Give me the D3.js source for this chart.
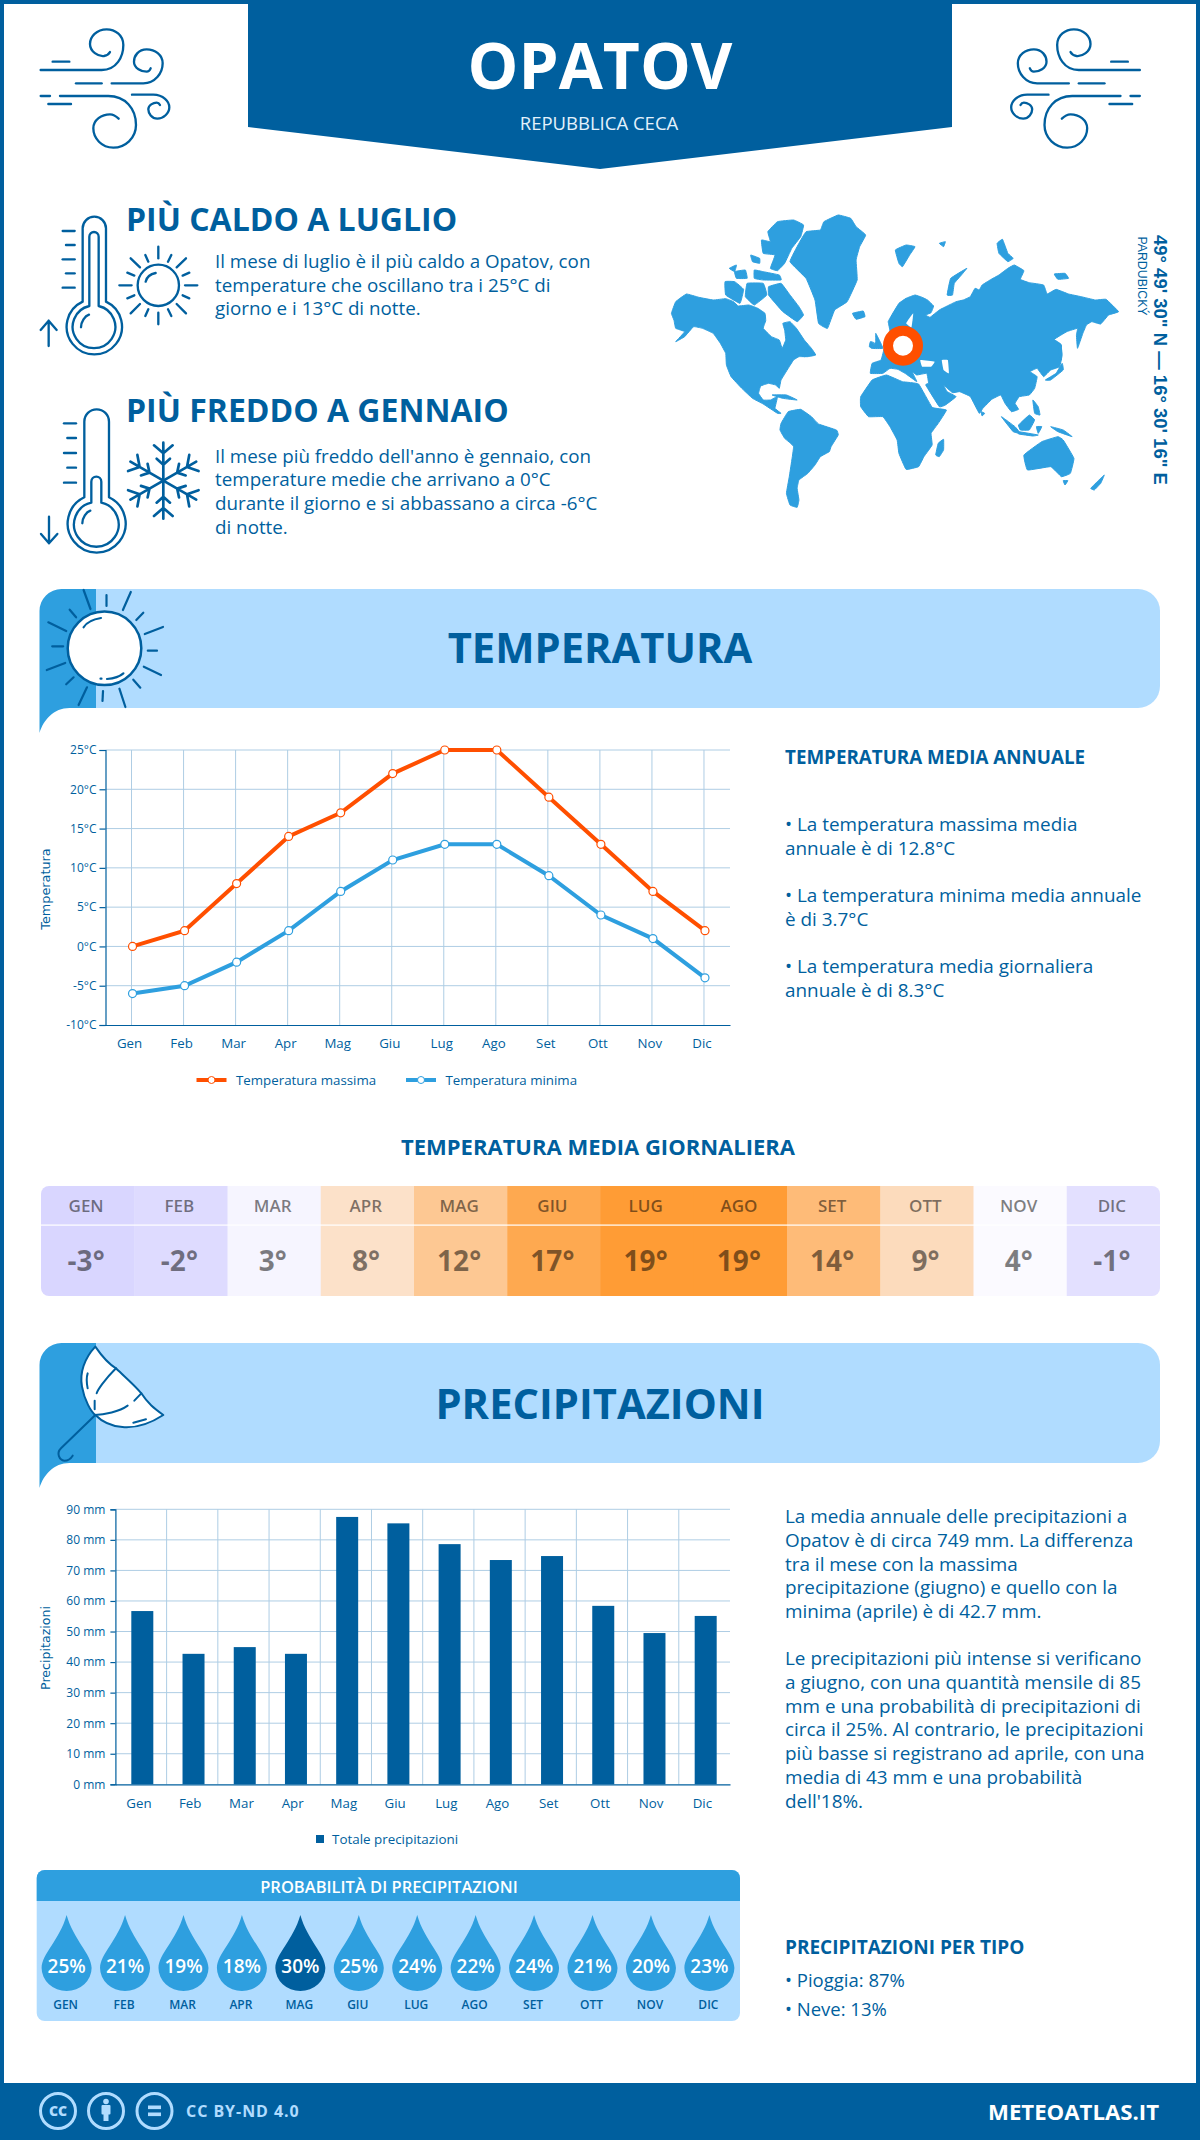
<!DOCTYPE html>
<html>
<head>
<meta charset="utf-8">
<title>Opatov</title>
<script src="https://cdn.jsdelivr.net/npm/d3@7"></script>
<style>
  html, body { margin: 0; padding: 0; background: #fff; }
  svg { display: block; font-family: "Open Sans", sans-serif; }
</style>
</head>
<body>
<div id="page"></div>
<script>
const months = ['Gen', 'Feb', 'Mar', 'Apr', 'Mag', 'Giu', 'Lug', 'Ago', 'Set', 'Ott', 'Nov', 'Dic'];
const tempMax = [0, 2, 8, 14, 17, 22, 25, 25, 19, 13, 7, 2];
const tempMin = [-6, -5, -2, 2, 7, 11, 13, 13, 9, 4, 1, -4];
const tempTicks = [-10, -5, 0, 5, 10, 15, 20, 25];
const dailyMean = [-3, -2, 3, 8, 12, 17, 19, 19, 14, 9, 4, -1];
const precipTotals = [56.7, 42.7, 44.9, 42.7, 87.5, 85.4, 78.6, 73.4, 74.7, 58.4, 49.5, 55.1];
const precipTicks = [0, 10, 20, 30, 40, 50, 60, 70, 80, 90];
const precipChance = [25, 21, 19, 18, 30, 25, 24, 22, 24, 21, 20, 23];

const hotLines = ['Il mese di luglio è il più caldo a Opatov, con', 'temperature che oscillano tra i 25°C di', 'giorno e i 13°C di notte.'];
const coldLines = ['Il mese più freddo dell\'anno è gennaio, con', 'temperature medie che arrivano a 0°C', 'durante il giorno e si abbassano a circa -6°C', 'di notte.'];
const annualLines = [['• La temperatura massima media', 'annuale è di 12.8°C'], ['• La temperatura minima media annuale', 'è di 3.7°C'], ['• La temperatura media giornaliera', 'annuale è di 8.3°C']];
const rainLines = [['La media annuale delle precipitazioni a', 'Opatov è di circa 749 mm. La differenza', 'tra il mese con la massima', 'precipitazione (giugno) e quello con la', 'minima (aprile) è di 42.7 mm.'],
  ['Le precipitazioni più intense si verificano', 'a giugno, con una quantità mensile di 85', 'mm e una probabilità di precipitazioni di', 'circa il 25%. Al contrario, le precipitazioni', 'più basse si registrano ad aprile, con una', 'media di 43 mm e una probabilità', 'dell\'18%.']];

// colours
const navy = '#005f9e';
const mid = '#2e9fdf';
const pale = '#b0dcff';
const orange = '#ff4f00';
const gridColor = '#aecde4';

// world map outlines (decoration, not data)
const mapOutlines = [
  [[88,340],[100,305],[130,282],[165,292],[205,300],[240,296],[262,305],[275,318],[305,315],[330,325],[350,340],[352,362],[345,385],[368,410],[390,420],[398,445],[408,420],[405,390],[400,370],[420,365],[438,385],[460,420],[480,445],[492,465],[470,470],[445,470],[430,480],[415,505],[395,540],[390,565],[380,555],[360,550],[338,558],[332,580],[345,600],[365,600],[385,590],[378,625],[395,640],[385,640],[345,612],[315,595],[285,565],[255,530],[242,495],[240,460],[225,430],[205,400],[175,385],[150,380],[125,410],[100,425],[125,395],[100,385],[95,360]],
  [[395,670],[415,635],[450,628],[480,650],[500,672],[550,690],[555,705],[535,740],[530,755],[505,770],[490,795],[470,820],[445,840],[440,865],[445,900],[440,922],[420,915],[410,880],[418,830],[430,740],[405,715],[392,690]],
  [[515,65],[555,45],[590,55],[605,80],[632,105],[615,140],[605,180],[608,240],[580,305],[545,330],[525,385],[500,370],[490,300],[465,235],[420,185],[445,130],[465,95],[505,90]],
  [[358,95],[385,65],[430,60],[458,75],[450,110],[425,145],[405,190],[385,212],[365,205],[378,165],[345,160],[340,120],[365,125]],
  [[360,260],[395,250],[420,285],[445,320],[458,345],[440,365],[400,335],[375,305],[360,285]],
  [[238,245],[265,245],[290,268],[280,310],[240,285]],
  [[300,250],[345,250],[355,285],[320,315],[295,290]],
  [[250,205],[270,195],[265,215]],
  [[265,215],[295,210],[300,235],[270,235]],
  [[320,210],[345,215],[390,225],[395,240],[345,240],[320,235]],
  [[310,165],[335,175],[335,190],[315,185]],
  [[435,455],[465,450],[490,462],[460,470]],
  [[595,340],[625,333],[630,350],[605,358]],
  [[660,400],[670,420],[680,445],[650,445],[660,425]],
  [[645,425],[655,428],[650,445],[642,440]],
  [[715,150],[745,135],[770,140],[755,165],[735,200],[725,190]],
  [[838,130],[855,125],[850,140]],
  [[860,285],[870,235],[915,205],[900,225],[880,250],[875,285]],
  [[1000,130],[1015,118],[1030,160],[1045,175],[1030,185],[1005,160]],
  [[1160,222],[1190,220],[1200,235],[1170,238]],
  [[695,365],[705,345],[725,310],[745,295],[770,285],[790,292],[805,300],[822,318],[815,338],[800,345],[812,352],[838,330],[860,318],[885,305],[905,300],[925,290],[938,265],[950,270],[958,255],[980,240],[1005,225],[1030,205],[1048,195],[1075,212],[1065,238],[1090,248],[1130,255],[1140,282],[1165,268],[1200,282],[1235,290],[1275,300],[1305,298],[1340,335],[1312,345],[1290,372],[1265,365],[1250,375],[1240,400],[1225,445],[1222,405],[1225,385],[1195,395],[1160,418],[1178,432],[1182,465],[1175,500],[1150,510],[1130,530],[1112,505],[1092,515],[1112,530],[1105,565],[1090,585],[1062,590],[1050,610],[1060,628],[1040,635],[1022,610],[1010,585],[985,598],[960,625],[950,640],[925,590],[895,575],[875,578],[850,555],[860,575],[885,590],[855,615],[838,620],[800,555],[808,550],[803,520],[775,525],[762,515],[775,545],[745,522],[722,508],[700,505],[680,520],[645,520],[650,490],[675,480],[685,440],[700,395]],
  [[618,590],[650,540],[690,525],[735,545],[780,552],[818,622],[858,630],[835,670],[815,700],[818,735],[795,770],[780,800],[745,808],[725,760],[720,720],[700,680],[680,650],[640,650],[618,620]],
  [[835,730],[850,718],[850,750],[838,770],[828,765]],
  [[1075,765],[1125,725],[1170,710],[1185,720],[1215,775],[1205,820],[1180,830],[1150,800],[1085,810]],
  [[1185,842],[1198,842],[1190,855]],
  [[1262,865],[1285,840],[1300,825],[1290,850],[1272,870]],
  [[1012,650],[1050,680],[1065,700],[1045,695]],
  [[1060,695],[1115,705],[1100,708],[1060,702]],
  [[1060,675],[1090,645],[1105,660],[1090,690],[1065,690]],
  [[1110,680],[1125,680],[1115,700]],
  [[1150,680],[1185,690],[1210,710],[1170,695]],
  [[1100,600],[1115,620],[1120,645],[1105,640]],
  [[1135,540],[1165,520],[1182,490],[1185,510],[1150,540]],
  [[1170,430],[1180,435],[1180,480],[1172,465]],
  [[370,585],[410,585],[440,600],[400,595]],
  [[955,635],[965,640],[958,648]]
];
const mapHoles = [
  [[845,480],[862,480],[865,520],[850,510]],
  [[785,480],[825,485],[815,500],[790,500]],
  [[745,370],[765,340],[760,382]]
];

const svg = d3.select('#page').append('svg')
  .attr('width', 1200)
  .attr('height', 2140);

function addText(parent, x, y, str, size, weight, color, anchor) {
  return parent.append('text')
    .attr('x', x)
    .attr('y', y)
    .attr('text-anchor', anchor || 'start')
    .attr('font-size', size)
    .attr('font-weight', weight || 400)
    .attr('fill', color || navy)
    .text(str);
}

function addLines(lines, x, y, step, size) {
  lines.forEach((line, i) => addText(svg, x, y + i * step, line, size));
}

// small helper for the line icons
function strokePath(parent, d, width) {
  return parent.append('path')
    .attr('d', d)
    .attr('fill', 'none')
    .attr('stroke', navy)
    .attr('stroke-width', width)
    .attr('stroke-linecap', 'round')
    .attr('stroke-linejoin', 'round');
}

function drawFrame() {
  svg.append('rect').attr('x', 2).attr('y', 2).attr('width', 1196).attr('height', 2100)
    .attr('fill', 'none').attr('stroke', navy).attr('stroke-width', 4);
  svg.append('polygon').attr('points', '248,0 952,0 952,127 600,169 248,127').attr('fill', navy);
  addText(svg, 600, 89, 'OPATOV', 64, 700, '#fff', 'middle');
  addText(svg, 599, 130, 'REPUBBLICA CECA', 18.5, 400, '#e4f2fc', 'middle');

  // footer
  svg.append('rect').attr('x', 0).attr('y', 2083).attr('width', 1200).attr('height', 57).attr('fill', navy);
  const foot = svg.append('g').attr('fill', 'none').attr('stroke', pale).attr('stroke-width', 3);
  [58, 106, 154.5].forEach(cx => foot.append('circle').attr('cx', cx).attr('cy', 2111).attr('r', 17.5));
  addText(svg, 58, 2116, 'CC', 14, 800, pale, 'middle');
  svg.append('circle').attr('cx', 106).attr('cy', 2101.5).attr('r', 2.8).attr('fill', pale);
  svg.append('rect').attr('x', 101.5).attr('y', 2105).attr('width', 9).attr('height', 9.5).attr('rx', 1).attr('fill', pale);
  svg.append('rect').attr('x', 103.5).attr('y', 2112).attr('width', 5).attr('height', 9).attr('fill', pale);
  svg.append('rect').attr('x', 148).attr('y', 2105.5).attr('width', 13).attr('height', 3.6).attr('fill', pale);
  svg.append('rect').attr('x', 148).attr('y', 2112.5).attr('width', 13).attr('height', 3.6).attr('fill', pale);
  addText(svg, 186, 2117, 'CC BY-ND 4.0', 16, 700, pale).attr('letter-spacing', 0.95);
  addText(svg, 1159, 2120, 'METEOATLAS.IT', 22.2, 700, '#fff', 'end');
}

function drawWind(g) {
  const w = 7;
  [
    'M32,150H215C260,150 280,110 280,75C280,45 255,28 230,28C200,28 180,50 180,72C180,95 205,110 222,108C232,106 238,100 240,96',
    'M68,125H118',
    'M138,190H215',
    'M245,190H340C375,190 398,160 398,130C398,105 375,88 350,88C325,88 312,108 312,125C312,145 335,155 350,155C355,155 360,150 362,145',
    'M32,228H60',
    'M90,228H235C285,228 318,265 318,315C318,355 285,383 250,383C215,383 190,355 190,325C190,300 215,283 240,283C250,283 260,290 266,296',
    'M55,252H123',
    'M306,224H370C400,224 418,245 418,262C418,280 400,296 382,296C365,296 355,280 355,268C355,255 370,248 380,248C384,248 388,251 390,255'
  ].forEach(d => strokePath(g, d, w));
}

function drawThermometer(g, cfg) {
  const { left, right, top, r, neckY, innerLeft, innerRight, innerTop, innerNeckY, cx, cy, R, Ri } = cfg;
  strokePath(g, `M${left},${neckY}V${top}A${r},${r} 0 0 1 ${right},${top}V${neckY}A${R},${R} 0 1 1 ${left},${neckY}Z`, 7);
  const ri = (innerRight - innerLeft) / 2;
  strokePath(g, `M${innerLeft},${innerNeckY}V${innerTop}A${ri},${ri} 0 0 1 ${innerRight},${innerTop}V${innerNeckY}A${Ri},${Ri} 0 1 1 ${innerLeft},${innerNeckY}Z`, 7);
  strokePath(g, `M${cx - Ri + 25},${cy}C${cx - Ri + 25},${cy - 17} ${cx - Ri + 37},${cy - 34} ${cx - Ri + 49},${cy - 38}`, 7);
}

function drawIcons() {
  drawWind(svg.append('g').attr('transform', 'translate(30,20) scale(0.3333)'));
  drawWind(svg.append('g').attr('transform', 'translate(1150.5,20) scale(-0.3333,0.3333)'));

  // hot thermometer and sun
  const hot = svg.append('g').attr('transform', 'translate(30,200) scale(0.3333)');
  drawThermometer(hot, { left: 158, right: 228, top: 85, r: 35, neckY: 305, innerLeft: 178, innerRight: 206, innerTop: 110, innerNeckY: 318, cx: 192, cy: 382, R: 83, Ri: 64 });
  [[98, 93], [108, 135], [98, 178], [108, 220], [98, 263]].forEach(t => strokePath(hot, `M${t[0]},${t[1]}H134`, 7));
  strokePath(hot, 'M56,438V362M32,390L56,362L80,390', 7);
  hot.append('circle').attr('cx', 385).attr('cy', 256).attr('r', 62).attr('fill', 'none').attr('stroke', navy).attr('stroke-width', 7);
  strokePath(hot, 'M347,245C350,232 362,222 377,219', 7);
  ['M385,140V175', 'M385,338V373', 'M268,256H305', 'M465,256H502', 'M302,175L330,202', 'M468,175L440,202', 'M302,340L330,312', 'M468,340L440,312',
    'M346,165L355,185', 'M424,165L414,185', 'M292,218L313,227', 'M478,218L458,227', 'M292,295L313,286', 'M478,295L458,286', 'M346,348L355,328', 'M424,348L414,328']
    .forEach(d => strokePath(hot, d, 7));

  // cold thermometer and snowflake
  const cold = svg.append('g').attr('transform', 'translate(30,200) scale(0.3333)');
  drawThermometer(cold, { left: 163, right: 237, top: 665, r: 37, neckY: 892, innerLeft: 184, innerRight: 214, innerTop: 845, innerNeckY: 908, cx: 199, cy: 970, R: 87, Ri: 67 });
  [[102, 670], [112, 714], [102, 759], [112, 803], [102, 848]].forEach(t => strokePath(cold, `M${t[0]},${t[1]}H138`, 7));
  strokePath(cold, 'M57,950V1030M33,1002L57,1030L82,1002', 7);
  d3.range(6).forEach(i => {
    const arm = cold.append('g').attr('transform', `translate(400,842) rotate(${i * 60})`);
    strokePath(arm, 'M0,0V-114M-28,-106L0,-82L28,-106M-20,-66L0,-48L20,-66', 8);
  });

  // map
  const mapX = d3.scaleLinear().domain([0, 2.8]).range([640, 641]);
  const mapY = d3.scaleLinear().domain([0, 3]).range([200, 201]);
  const outline = d3.line().x(p => mapX(p[0])).y(p => mapY(p[1])).curve(d3.curveCardinalClosed.tension(0.75));
  svg.append('g').selectAll('path').data(mapOutlines).enter().append('path')
    .attr('d', outline).attr('fill', mid).attr('stroke', mid).attr('stroke-width', 1);
  svg.append('g').selectAll('path').data(mapHoles).enter().append('path')
    .attr('d', outline).attr('fill', '#fff');
  svg.append('circle').attr('cx', 903).attr('cy', 345.7).attr('r', 15)
    .attr('fill', '#fff').attr('stroke', orange).attr('stroke-width', 10);

  // rotated coordinates next to the map
  svg.append('text').attr('transform', 'translate(1154,235) rotate(90)')
    .attr('font-family', '"Liberation Sans", sans-serif').attr('font-size', 18.5).attr('font-weight', 700).attr('fill', navy)
    .text('49° 49\' 30" N — 16° 30\' 16" E');
  svg.append('text').attr('transform', 'translate(1138,236.5) rotate(90)')
    .attr('font-family', '"Liberation Sans", sans-serif').attr('font-size', 12.3).attr('fill', navy)
    .text('PARDUBICKÝ');
}

function drawBand(y0, y1, title, baseline) {
  const x0 = 39.5, x1 = 1160, split = 96, r = 22;
  svg.append('path')
    .attr('d', `M${split},${y0}H${x1 - r}A${r},${r} 0 0 1 ${x1},${y0 + r}V${y1 - r}A${r},${r} 0 0 1 ${x1 - r},${y1}H${split}Z`)
    .attr('fill', pale);
  svg.append('path')
    .attr('d', `M${x0},${y1 + 25}V${y0 + r}A${r},${r} 0 0 1 ${x0 + r},${y0}H${split}V${y1}H${x0 + 30}C${x0 + 14},${y1} ${x0 + 4},${y1 + 12} ${x0},${y1 + 25}Z`)
    .attr('fill', mid);
  addText(svg, 600, baseline, title, 41.7, 700, navy, 'middle');
}

function drawBandIcons() {
  // sun on the temperature band
  svg.append('circle').attr('cx', 104.5).attr('cy', 648.3).attr('r', 36.8)
    .attr('fill', '#fff').attr('stroke', navy).attr('stroke-width', 2.5);
  const sun = svg.append('g');
  ['M83.6,590L90.5,609', 'M106.5,595V606', 'M130.8,592L122.9,610', 'M143.3,612.7L136.3,620', 'M163,627L144.8,634', 'M157,650.7H147.8',
    'M161,675L143.8,666.7', 'M140.3,687.7L133.3,679.7', 'M125.4,707L119.4,688.7', 'M102.5,701L103,691', 'M78.6,705L87,687.3',
    'M66.2,684.3L73.6,677.3', 'M46.8,670L65.2,663', 'M52.2,646.3H63.2', 'M48.3,622.3L66.2,631', 'M69.7,609.7L76.1,617.3',
    'M83.6,627.3Q88,620 101,618', 'M107,679Q118,678 123.4,673.3', 'M100.5,678.7H101.5'].forEach(d => strokePath(sun, d, 2.2));

  // umbrella on the rain band
  const umb = svg.append('g').attr('transform', 'translate(36,1340) scale(0.3333)');
  strokePath(umb, 'M178,20C145,55 130,100 138,140C145,180 165,215 178,225C215,262 290,285 382,225C355,205 335,190 316,160C290,130 265,110 240,85C215,70 195,45 178,20Z', 6)
    .attr('fill', '#fff');
  ['M240,85C205,120 185,150 182,160', 'M176,182V208', 'M176,225C205,225 250,215 275,197', 'M295,182L316,160', 'M155,100C150,115 152,130 155,145', 'M292,248L330,238',
    'M178,225L75,325C60,340 70,360 85,362C95,362 105,355 110,347'].forEach(d => strokePath(umb, d, 6));
}

function drawTempChart() {
  const left = 105.5, right = 730, top = 750, bottom = 1025;
  const x = d3.scaleBand().domain(months).range([left, right]);
  const y = d3.scaleLinear().domain([-10, 25]).range([bottom, top]);
  const g = svg.append('g');

  // grid first, the lines sit above it
  g.selectAll('.hgrid').data(tempTicks.filter(t => t > -10)).enter().append('line')
    .attr('x1', left).attr('x2', right).attr('y1', d => y(d)).attr('y2', d => y(d))
    .attr('stroke', gridColor);
  g.selectAll('.vgrid').data(months).enter().append('line')
    .attr('x1', d => x(d) + x.bandwidth() / 2).attr('x2', d => x(d) + x.bandwidth() / 2)
    .attr('y1', top).attr('y2', bottom)
    .attr('stroke', gridColor);

  const yAxis = d3.axisLeft(y).tickValues(tempTicks).tickSize(6).tickPadding(3).tickFormat(d => d + '°C');
  const xAxis = d3.axisBottom(x).tickSize(0).tickPadding(14);
  const ya = g.append('g').attr('transform', `translate(${left},0)`).call(yAxis);
  const xa = g.append('g').attr('transform', `translate(0,${bottom})`).call(xAxis);
  [ya, xa].forEach(a => {
    a.selectAll('path,line').attr('stroke', navy).attr('stroke-width', 1.2);
    a.selectAll('text').attr('fill', navy).attr('font-family', '"Open Sans", sans-serif').attr('font-size', 12);
  });
  xa.selectAll('text').attr('dx', -2).attr('font-size', 13.3);

  const line = d3.line()
    .x((d, i) => x(months[i]) + x.bandwidth() / 2 + 1)
    .y(d => y(d));
  [[tempMax, orange], [tempMin, mid]].forEach(([values, color]) => {
    g.append('path').datum(values).attr('d', line)
      .attr('fill', 'none').attr('stroke', color).attr('stroke-width', 4);
    g.selectAll(null).data(values).enter().append('circle')
      .attr('cx', (d, i) => x(months[i]) + x.bandwidth() / 2 + 1)
      .attr('cy', d => y(d))
      .attr('r', 4)
      .attr('fill', '#fff')
      .attr('stroke', color)
      .attr('stroke-width', 1.2);
  });

  svg.append('text').attr('transform', 'translate(50,889) rotate(-90)')
    .attr('text-anchor', 'middle').attr('font-family', '"DejaVu Sans", sans-serif').attr('font-size', 12.8).attr('fill', navy)
    .text('Temperatura');

  // legend
  [[196.5, 'Temperatura massima', orange], [406, 'Temperatura minima', mid]].forEach(([lx, label, color]) => {
    svg.append('line').attr('x1', lx).attr('x2', lx + 30).attr('y1', 1080).attr('y2', 1080)
      .attr('stroke', color).attr('stroke-width', 4);
    svg.append('circle').attr('cx', lx + 15).attr('cy', 1080).attr('r', 3.5)
      .attr('fill', '#fff').attr('stroke', color);
    addText(svg, lx + 39.5, 1084.5, label, 13.3);
  });
}

function drawHeatRow() {
  const x = d3.scaleBand().domain(months).range([41, 1160]);
  const color = d3.scaleLinear().domain([-3, 4, 19]).range(['#d9d6ff', '#fbfaff', '#ff9c35']);
  const top = 1186, bottom = 1296;
  const clip = svg.append('clipPath').attr('id', 'heatClip');
  clip.append('rect').attr('x', 41).attr('y', top).attr('width', 1119).attr('height', bottom - top).attr('rx', 8);
  const g = svg.append('g').attr('clip-path', 'url(#heatClip)');
  g.selectAll('rect').data(dailyMean).enter().append('rect')
    .attr('x', (d, i) => x(months[i]))
    .attr('y', top)
    .attr('width', x.bandwidth() + 0.5)
    .attr('height', bottom - top)
    .attr('fill', d => color(d));
  g.append('rect').attr('x', 41).attr('y', 1224.5).attr('width', 1119).attr('height', 1.2).attr('fill', '#fff');
  months.forEach((m, i) => {
    const cx = x(m) + x.bandwidth() / 2 - 1.5;
    addText(svg, cx, 1212, m.toUpperCase(), 17, 600, '#000', 'middle').attr('fill-opacity', 0.5);
    addText(svg, cx, 1271, dailyMean[i] + '°', 28, 700, '#000', 'middle').attr('fill-opacity', 0.5);
  });
  addText(svg, 598, 1155, 'TEMPERATURA MEDIA GIORNALIERA', 22, 700, navy, 'middle');
}

function drawRainChart() {
  const left = 115.4, right = 730, top = 1509.3, bottom = 1784.3;
  const x = d3.scaleBand().domain(months).range([left, right]).paddingInner(0);
  const y = d3.scaleLinear().domain([0, 90]).range([bottom, top]);
  const g = svg.append('g');
  const barW = 22;

  g.selectAll('.hgrid').data(precipTicks.slice(1)).enter().append('line')
    .attr('x1', left).attr('x2', right).attr('y1', d => y(d)).attr('y2', d => y(d))
    .attr('stroke', gridColor);
  g.selectAll('.vgrid').data(months.slice(1)).enter().append('line')
    .attr('x1', d => x(d)).attr('x2', d => x(d)).attr('y1', top).attr('y2', bottom)
    .attr('stroke', gridColor);

  g.selectAll('.bar').data(precipTotals).enter().append('rect')
    .attr('x', (d, i) => x(months[i]) + x.bandwidth() / 2 - barW / 2 + 1.3)
    .attr('y', d => y(d))
    .attr('width', barW)
    .attr('height', d => bottom - y(d))
    .attr('fill', navy);

  const yAxis = d3.axisLeft(y).tickValues(precipTicks).tickSize(5).tickPadding(5).tickFormat(d => d + ' mm');
  const xAxis = d3.axisBottom(x).tickSize(0).tickPadding(14);
  const ya = g.append('g').attr('transform', `translate(${left},0)`).call(yAxis);
  const xa = g.append('g').attr('transform', `translate(0,${bottom})`).call(xAxis);
  [ya, xa].forEach(a => {
    a.selectAll('path,line').attr('stroke', navy).attr('stroke-width', 1.2);
    a.selectAll('text').attr('fill', navy).attr('font-family', '"Open Sans", sans-serif').attr('font-size', 12);
  });
  xa.selectAll('text').attr('dx', -2).attr('font-size', 13.3);

  svg.append('text').attr('transform', 'translate(50,1648) rotate(-90)')
    .attr('text-anchor', 'middle').attr('font-family', '"DejaVu Sans", sans-serif').attr('font-size', 12.6).attr('fill', navy)
    .text('Precipitazioni');

  svg.append('rect').attr('x', 316).attr('y', 1835).attr('width', 8).attr('height', 8).attr('fill', navy);
  addText(svg, 332, 1843.5, 'Totale precipitazioni', 13.4);
}

function drawChancePanel() {
  const left = 36.7, right = 740;
  svg.append('rect').attr('x', left).attr('y', 1870).attr('width', right - left).attr('height', 151).attr('rx', 8).attr('fill', pale);
  svg.append('path')
    .attr('d', `M${left},1901V1878A8,8 0 0 1 ${left + 8},1870H${right - 8}A8,8 0 0 1 ${right},1878V1901Z`)
    .attr('fill', mid);
  addText(svg, 389, 1893, 'PROBABILITÀ DI PRECIPITAZIONI', 16.5, 600, '#fff', 'middle');

  const x = d3.scaleBand().domain(months).range([37.4, 738.6]);
  const peak = d3.max(precipChance);
  const drops = svg.append('g').selectAll('g').data(precipChance).enter().append('g')
    .attr('transform', (d, i) => `translate(${x(months[i]) + x.bandwidth() / 2},1968)`);
  drops.append('path')
    .attr('d', 'M0,-53C-7,-28 -25,-14 -25,0A25,23 0 0 0 25,0C25,-14 7,-28 0,-53Z')
    .attr('fill', d => d === peak ? navy : mid);
  drops.append('text')
    .attr('y', 5).attr('text-anchor', 'middle').attr('font-size', 19).attr('font-weight', 600).attr('fill', '#fff')
    .text(d => d + '%');
  months.forEach(m => {
    addText(svg, x(m) + x.bandwidth() / 2 - 1, 2009, m.toUpperCase(), 12, 600, navy, 'middle');
  });
}

drawFrame();
drawIcons();
drawBand(589, 708, 'TEMPERATURA', 663);
drawBand(1343, 1463, 'PRECIPITAZIONI', 1419);
drawBandIcons();
drawTempChart();
drawHeatRow();
drawRainChart();
drawChancePanel();

addText(svg, 126, 231, 'PIÙ CALDO A LUGLIO', 32, 700);
addLines(hotLines, 215, 268, 23.6, 18.8);
addText(svg, 126, 421.5, 'PIÙ FREDDO A GENNAIO', 32, 700);
addLines(coldLines, 215, 462.5, 23.7, 18.8);

addText(svg, 785, 764, 'TEMPERATURA MEDIA ANNUALE', 18.8, 700);
annualLines.forEach((pair, i) => addLines(pair, 785, [831, 902, 973][i], 23.5, 18.9));

rainLines.forEach((para, i) => addLines(para, 785, [1522.7, 1664.7][i], 23.9, 18.9));
addText(svg, 785, 1954, 'PRECIPITAZIONI PER TIPO', 19, 700);
addText(svg, 785, 1986.7, '• Pioggia: 87%', 18.5);
addText(svg, 785, 2015.7, '• Neve: 13%', 18.5);
</script>
</body>
</html>
